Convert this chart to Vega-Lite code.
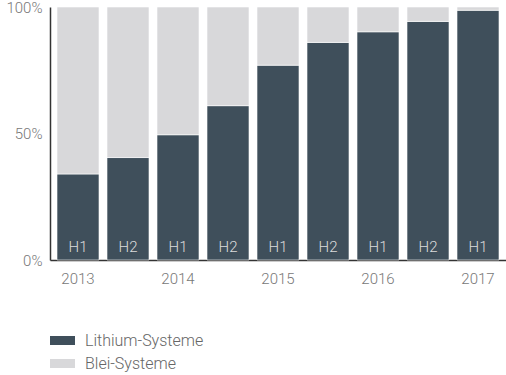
{
  "$schema": "https://vega.github.io/schema/vega-lite/v6.json",
  "width": 456,
  "height": 253,
  "autosize": {"type": "none"},
  "padding": {"left": 50, "top": 7, "right": 0, "bottom": 115},
  "background": "white",
  "config": {
    "view": {"stroke": null},
    "font": "Roboto",
    "axis": {"labelFont": "Roboto", "labelFontWeight": 300, "labelColor": "#777777", "labelFontSize": 15}
  },
  "data": {
    "values": [
      {"period": "2013 H1", "half": "H1", "type": "Lithium-Systeme", "share": 34},
      {"period": "2013 H1", "half": "H1", "type": "Blei-Systeme", "share": 66},
      {"period": "2013 H2", "half": "H2", "type": "Lithium-Systeme", "share": 40.5},
      {"period": "2013 H2", "half": "H2", "type": "Blei-Systeme", "share": 59.5},
      {"period": "2014 H1", "half": "H1", "type": "Lithium-Systeme", "share": 49.5},
      {"period": "2014 H1", "half": "H1", "type": "Blei-Systeme", "share": 50.5},
      {"period": "2014 H2", "half": "H2", "type": "Lithium-Systeme", "share": 61},
      {"period": "2014 H2", "half": "H2", "type": "Blei-Systeme", "share": 39},
      {"period": "2015 H1", "half": "H1", "type": "Lithium-Systeme", "share": 77},
      {"period": "2015 H1", "half": "H1", "type": "Blei-Systeme", "share": 23},
      {"period": "2015 H2", "half": "H2", "type": "Lithium-Systeme", "share": 86},
      {"period": "2015 H2", "half": "H2", "type": "Blei-Systeme", "share": 14},
      {"period": "2016 H1", "half": "H1", "type": "Lithium-Systeme", "share": 90.2},
      {"period": "2016 H1", "half": "H1", "type": "Blei-Systeme", "share": 9.8},
      {"period": "2016 H2", "half": "H2", "type": "Lithium-Systeme", "share": 94.3},
      {"period": "2016 H2", "half": "H2", "type": "Blei-Systeme", "share": 5.7},
      {"period": "2017 H1", "half": "H1", "type": "Lithium-Systeme", "share": 98.7},
      {"period": "2017 H1", "half": "H1", "type": "Blei-Systeme", "share": 1.3}
    ]
  },
  "encoding": {
    "x": {
      "field": "period",
      "type": "ordinal",
      "sort": null,
      "scale": {"paddingInner": 0.16, "paddingOuter": 0.14},
      "axis": {
        "title": null,
        "labelAngle": 0,
        "ticks": false,
        "domainColor": "#333333",
        "domainWidth": 1.5,
        "labelPadding": 11,
        "labelDx": -4,
        "labelExpr": "indexof(datum.value, 'H1') >= 0 ? slice(datum.value, 0, 4) : ''"
      }
    }
  },
  "layer": [
    {
      "mark": {"type": "bar", "stroke": "#ffffff", "strokeWidth": 0.6},
      "encoding": {
        "y": {
          "field": "share",
          "type": "quantitative",
          "stack": "normalize",
          "scale": {"domain": [0, 1], "nice": false},
          "axis": {
            "title": null,
            "values": [0, 0.5, 1],
            "format": "%",
            "grid": false,
            "ticks": false,
            "domainColor": "#333333",
            "domainWidth": 1.5,
            "labelPadding": 8
          }
        },
        "color": {
          "field": "type",
          "type": "nominal",
          "sort": ["Lithium-Systeme", "Blei-Systeme"],
          "scale": {"domain": ["Lithium-Systeme", "Blei-Systeme"], "range": ["#3f4f5b", "#d8d8da"]},
          "legend": {
            "title": null,
            "orient": "none",
            "legendX": 0,
            "legendY": 321,
            "symbolType": "M-1,-0.36H1V0.36H-1Z",
            "symbolSize": 625,
            "symbolStrokeWidth": 0,
            "labelFont": "Roboto",
            "labelFontWeight": 300,
            "labelFontSize": 16,
            "labelColor": "#666666",
            "labelOffset": 10,
            "rowPadding": 2
          }
        },
        "order": {"field": "type", "sort": "descending"}
      }
    },
    {
      "transform": [{"filter": "datum.type === 'Lithium-Systeme'"}],
      "mark": {"type": "text", "baseline": "middle", "align": "center", "dy": -13, "fontSize": 15, "font": "Roboto", "fontWeight": 300, "fill": "#dcdcdc"},
      "encoding": {
        "y": {"datum": 0, "type": "quantitative"},
        "text": {"field": "half"}
      }
    }
  ]
}
